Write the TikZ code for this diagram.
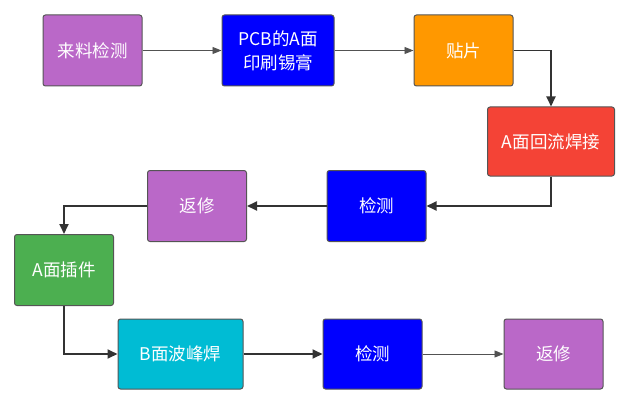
\documentclass[tikz,border=0pt]{standalone}
\usepackage{fontspec}
\setmainfont{Noto Sans CJK SC}
\usetikzlibrary{arrows.meta}
\definecolor{boxline}{HTML}{555555}
\definecolor{arrline}{HTML}{333333}
\definecolor{cpurple}{HTML}{BA68C8}
\definecolor{cblue}{HTML}{0000FF}
\definecolor{corange}{HTML}{FF9800}
\definecolor{cred}{HTML}{F44336}
\definecolor{cgreen}{HTML}{4CAF50}
\definecolor{ccyan}{HTML}{00BCD4}
\begin{document}
\begin{tikzpicture}[x=1pt,y=-1pt,
    box/.style={draw=boxline, line width=1pt, rounded corners=2.5pt, text=white,
      minimum width=99pt, minimum height=71pt, align=center,
      font=\fontsize{17.5}{24}\selectfont},
    thinarrow/.style={draw=arrline!85, line width=0.9pt, -{Triangle[length=9pt,width=7pt]}},
    thickarrow/.style={draw=arrline, line width=1.8pt, -{Triangle[length=10pt,width=9pt]}}]
    \useasboundingbox (0,0) rectangle (631,401);

    % Top row
    \node[box, fill=cpurple] (lljc) at (92.5,50.5) {来料检测};
    \node[box, fill=cblue, minimum width=112pt] (yssg) at (278,50.5) {PCB的A面\\印刷锡膏};
    \node[box, fill=corange] (tp) at (463.5,50.5) {贴片};

    % Reflow
    \node[box, fill=cred, minimum width=127pt, minimum height=69pt] (hlh) at (551,141.5) {A面回流焊接};

    % Second row
    \node[box, fill=cblue] (jc1) at (376.5,206) {检测};
    \node[box, fill=cpurple] (fx1) at (197,206) {返修};

    % Insert
    \node[box, fill=cgreen] (cj) at (64,270) {A面插件};

    % Bottom row
    \node[box, fill=ccyan, minimum width=125pt, minimum height=70pt] (bfh) at (180.5,354) {B面波峰焊};
    \node[box, fill=cblue, minimum height=70pt] (jc2) at (372.5,354) {检测};
    \node[box, fill=cpurple, minimum height=70pt] (fx2) at (553.5,354) {返修};

    % Connectors
    \draw[thinarrow] (lljc) -- (yssg);
    \draw[thinarrow] (yssg) -- (tp);
    \draw[thickarrow] (tp.east) -| (hlh.north);
    \draw[thickarrow] (hlh.south) |- (jc1.east);
    \draw[thickarrow] (jc1) -- (fx1);
    \draw[thickarrow] (fx1.west) -| (cj.north);
    \draw[thickarrow] (cj.south) |- (bfh.west);
    \draw[thickarrow] (bfh) -- (jc2);
    \draw[thinarrow] (jc2) -- (fx2);
\end{tikzpicture}
\end{document}
